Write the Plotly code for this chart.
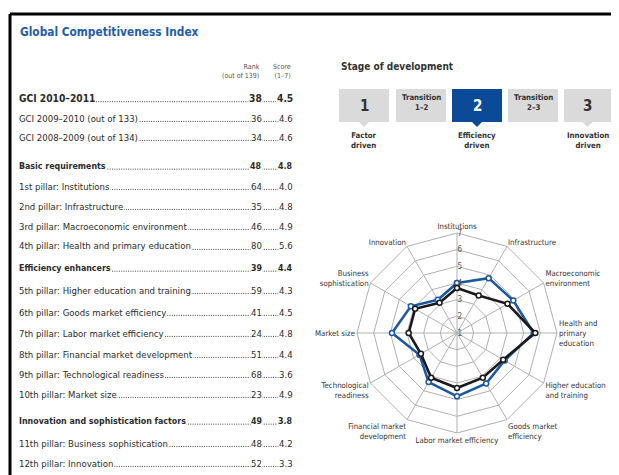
import plotly.graph_objects as go

# ---------------- data ----------------
table_labels = [
    "GCI 2010–2011",
    "GCI 2009–2010 (out of 133)",
    "GCI 2008–2009 (out of 134)",
    "Basic requirements",
    "1st pillar: Institutions",
    "2nd pillar: Infrastructure",
    "3rd pillar: Macroeconomic environment",
    "4th pillar: Health and primary education",
    "Efficiency enhancers",
    "5th pillar: Higher education and training",
    "6th pillar: Goods market efficiency",
    "7th pillar: Labor market efficiency",
    "8th pillar: Financial market development",
    "9th pillar: Technological readiness",
    "10th pillar: Market size",
    "Innovation and sophistication factors",
    "11th pillar: Business sophistication",
    "12th pillar: Innovation",
]
table_ranks = ["38", "36", "34", "48", "64", "35", "46", "80", "39", "59", "41", "24", "51", "68", "23", "49", "48", "52"]
table_scores = ["4.5", "4.6", "4.6", "4.8", "4.0", "4.8", "4.9", "5.6", "4.4", "4.3", "4.5", "4.8", "4.4", "3.6", "4.9", "3.8", "4.2", "3.3"]
row_kinds = ["main", "sub", "sub", "head", "sub", "sub", "sub", "sub", "head",
             "sub", "sub", "sub", "sub", "sub", "sub", "head", "sub", "sub"]

pillars = [
    "Institutions", "Infrastructure", "Macroeconomic<br>environment",
    "Health and<br>primary<br>education", "Higher education<br>and training",
    "Goods market<br>efficiency", "Labor market efficiency",
    "Financial market<br>development", "Technological<br>readiness",
    "Market size", "Business<br>sophistication", "Innovation",
]
country_scores = [4.0, 4.8, 4.9, 5.6, 4.3, 4.5, 4.8, 4.4, 3.6, 4.9, 4.2, 3.3]
stage_average = [3.7, 3.6, 4.5, 5.7, 4.2, 4.1, 4.3, 4.1, 3.5, 3.9, 3.9, 3.1]
radial_ticks = [1, 2, 3, 4, 5, 6, 7]

stage_boxes = ["1", "Transition<br>1–2", "2", "Transition<br>2–3", "3"]
stage_labels = ["Factor<br>driven", "Efficiency<br>driven", "Innovation<br>driven"]
current_stage = 2

# ---------------- styling / layout ----------------
W, H = 619, 475          # window size
OFF = 8                  # default page body margin
FW, FH = W - OFF, H - OFF
FONT = "DejaVu Sans Condensed, Liberation Sans Narrow, Arial Narrow, sans-serif"
BLUE = "#1b58a0"
BOXBLUE = "#0b4a96"
TXT = "#2b2b2b"
GREY = "#dadada"


def px(x):
    return (x - OFF) / FW


def py(y):
    return 1 - (y - OFF) / FH


fig = go.Figure()

fig.add_trace(go.Scatterpolar(
    r=country_scores + country_scores[:1], theta=pillars + pillars[:1],
    mode="lines+markers", line=dict(color=BLUE, width=2.6),
    marker=dict(size=5, color="white", line=dict(color=BLUE, width=1.5)),
    showlegend=False, hoverinfo="skip"))
fig.add_trace(go.Scatterpolar(
    r=stage_average + stage_average[:1], theta=pillars + pillars[:1],
    mode="lines+markers", line=dict(color="#1a1a1a", width=2.6),
    marker=dict(size=5, color="white", line=dict(color="#1a1a1a", width=1.5)),
    showlegend=False, hoverinfo="skip"))

cx, cy, R = 457, 333, 100
shapes = []
ann = []

# frame
shapes.append(dict(type="line", xref="paper", yref="paper", x0=px(10), x1=px(W + 5),
                   y0=py(14), y1=py(14), line=dict(color="black", width=3)))
shapes.append(dict(type="line", xref="paper", yref="paper", x0=px(10), x1=px(10),
                   y0=py(14), y1=py(H + 5), line=dict(color="black", width=3)))

# title
ann.append(dict(text="<b>Global Competitiveness Index</b>", x=px(18), y=py(32), xref="paper", yref="paper",
                xanchor="left", yanchor="middle", showarrow=False,
                font=dict(family=FONT, size=11.8, color="#1f5ca8")))

# column headers
RANK_X, SCORE_X = 262, 293
for xx, t in [(RANK_X, "Rank<br>(out of 139)"), (SCORE_X, "Score<br>(1–7)")]:
    ann.append(dict(text=t, x=px(xx), y=py(71), xref="paper", yref="paper", xanchor="right",
                    yanchor="middle", align="right", showarrow=False,
                    font=dict(family=FONT, size=7, color="#555")))

row_y = [98, 118, 137, 166, 186, 206, 226, 246, 268, 290, 312, 333, 354, 374, 394, 421, 443, 463]
size_for = {"main": 10.2, "head": 8.8, "sub": 9.5}
for lab, rk, sc, kind, yy in zip(table_labels, table_ranks, table_scores, row_kinds, row_y):
    fs = size_for[kind]
    b = kind != "sub"
    shapes.append(dict(type="line", xref="paper", yref="paper", x0=px(20), x1=px(SCORE_X - 8),
                       y0=py(yy + fs * 0.36), y1=py(yy + fs * 0.36),
                       line=dict(color="#444", width=1, dash="1px,1.3px")))
    wrap = (lambda s: f"<b>{s}</b>") if b else (lambda s: s)
    common = dict(xref="paper", yref="paper", yanchor="middle", showarrow=False,
                  bgcolor="white", borderpad=0)
    ann.append(dict(text=wrap(lab), x=px(18), y=py(yy), xanchor="left",
                    font=dict(family=FONT, size=fs, color=TXT), **common))
    ann.append(dict(text=wrap(rk), x=px(RANK_X + 1), y=py(yy), xanchor="right",
                    font=dict(family=FONT, size=fs, color=TXT), **common))
    ann.append(dict(text=wrap(sc), x=px(SCORE_X + 1), y=py(yy), xanchor="right",
                    font=dict(family=FONT, size=fs, color=TXT), **common))

# stage of development
ann.append(dict(text="<b>Stage of development</b>", x=px(339), y=py(66), xref="paper", yref="paper",
                xanchor="left", yanchor="middle", showarrow=False,
                font=dict(family=FONT, size=10, color="#333")))
box_x = [(339, 389), (396, 446), (452, 502), (508, 558), (564, 611)]
BY0, BY1 = 89, 122
stage_idx = 0
for t, (x0, x1) in zip(stage_boxes, box_x):
    is_stage = not t.startswith("Transition")
    active = is_stage and int(t) == current_stage
    fill = BOXBLUE if active else GREY
    shapes.append(dict(type="rect", xref="paper", yref="paper", x0=px(x0), x1=px(x1),
                       y0=py(BY0), y1=py(BY1), fillcolor=fill, line=dict(width=0), layer="below"))
    xc = (x0 + x1) / 2
    if is_stage:
        ann.append(dict(text=f"<b>{t}</b>", x=px(xc), y=py(106), xref="paper", yref="paper",
                        showarrow=False, xanchor="center", yanchor="middle",
                        font=dict(family=FONT, size=15, color="white" if active else "#333")))
        shapes.append(dict(type="path", xref="paper", yref="paper", fillcolor=fill, line=dict(width=0),
                           path=f"M {px(xc-5)} {py(BY1)} L {px(xc+5)} {py(BY1)} L {px(xc)} {py(BY1+5)} Z"))
        ann.append(dict(text=f"<b>{stage_labels[stage_idx]}</b>", x=px(xc), y=py(141), xref="paper",
                        yref="paper", showarrow=False, xanchor="center", yanchor="middle",
                        font=dict(family=FONT, size=7.8, color="#333")))
        stage_idx += 1
    else:
        ann.append(dict(text=f"<b>{t}</b>", x=px(xc), y=py(103), xref="paper", yref="paper",
                        showarrow=False, xanchor="center", yanchor="middle",
                        font=dict(family=FONT, size=7.8, color="#333")))

fig.update_layout(
    width=FW, height=FH, margin=dict(l=0, r=0, t=0, b=0),
    paper_bgcolor="white", plot_bgcolor="white", showlegend=False,
    shapes=shapes, annotations=ann,
    polar=dict(
        domain=dict(x=[px(cx - R), px(cx + R)], y=[py(cy + R), py(cy - R)]),
        gridshape="linear", bgcolor="white",
        radialaxis=dict(range=[1, 7], tickvals=radial_ticks, angle=90, tickangle=90,
                        showline=False, gridcolor="#b0b0b0", gridwidth=1, ticks="",
                        tickfont=dict(family=FONT, size=8, color="#555")),
        angularaxis=dict(direction="clockwise", rotation=90, gridcolor="#b0b0b0",
                         linecolor="#b0b0b0", showline=True, ticks="",
                         tickfont=dict(family=FONT, size=7.8, color="#333")),
    ),
)

fig.write_html("out.html")
